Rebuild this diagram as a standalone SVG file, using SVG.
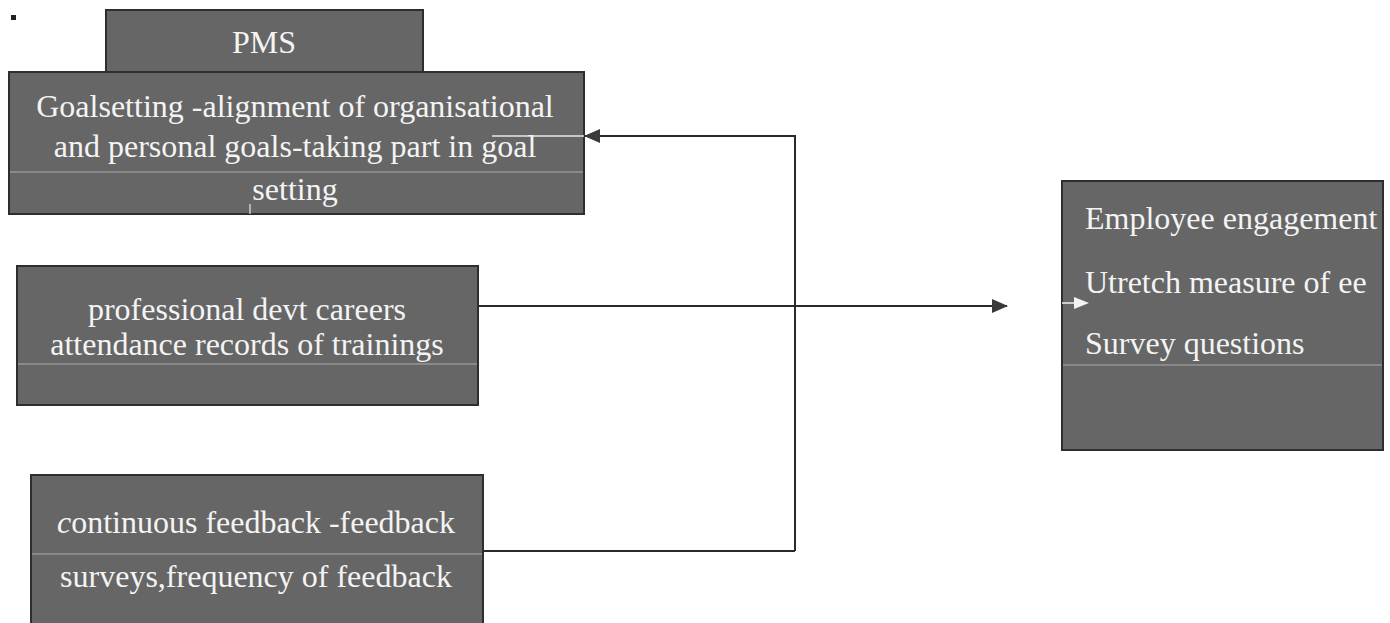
<svg xmlns="http://www.w3.org/2000/svg" width="1390" height="623" viewBox="0 0 1390 623">
<style>
.box{fill:#666666;stroke:#2e2e2e;stroke-width:2}
.t{font-family:"Liberation Serif","Times New Roman",serif;font-size:32px;fill:#f4f4f4}
.c{text-anchor:middle}
.faint{stroke:#bdbdbd;stroke-width:1.2;opacity:0.8}
.conn{fill:none;stroke:#2a2a2a;stroke-width:2}
</style>
<defs>
<marker id="ah" viewBox="0 0 16 16" refX="15" refY="8" markerWidth="16" markerHeight="16" markerUnits="userSpaceOnUse" orient="auto">
<path d="M0,1 L16,8 L0,15 Z" fill="#3a3a3a"/>
</marker>
</defs>
<rect width="1390" height="623" fill="#ffffff"/>
<rect x="11" y="15" width="5" height="5" fill="#222"/>

<g id="pms">
<rect class="box" x="106" y="10" width="317" height="62"/>
<text class="t c" x="264" y="53">PMS</text>
</g>

<g id="goalsetting">
<rect class="box" x="9" y="72" width="575" height="142"/>
<line class="faint" x1="10" y1="172" x2="583" y2="172"/>
<line x1="492" y1="136" x2="584" y2="136" stroke="#e8e8e8" stroke-width="1.5"/>
<line x1="250" y1="204" x2="250" y2="214" stroke="#e8e8e8" stroke-width="1.2"/>
<text class="t c" x="295" y="117">Goalsetting -alignment of organisational</text>
<text class="t c" x="295" y="157">and personal goals-taking part in goal</text>
<text class="t c" x="295" y="200">setting</text>
</g>

<g id="professional">
<rect class="box" x="17" y="266" width="461" height="139"/>
<line class="faint" x1="18" y1="364" x2="477" y2="364"/>
<text class="t c" x="247" y="320">professional devt careers</text>
<text class="t c" x="247" y="355">attendance records of trainings</text>
</g>

<g id="feedback">
<rect class="box" x="31" y="475" width="452" height="150"/>
<line class="faint" x1="32" y1="554" x2="482" y2="554"/>
<text class="t c" x="256" y="533"><tspan font-style="italic">c</tspan>ontinuous feedback -feedback</text>
<text class="t c" x="256" y="587">surveys,frequency of feedback</text>
</g>

<g id="engagement">
<rect class="box" x="1062" y="181" width="321" height="269"/>
<line class="faint" x1="1063" y1="365" x2="1382" y2="365"/>
<line x1="1062" y1="303" x2="1075" y2="303" stroke="#f0f0f0" stroke-width="1.5"/>
<path d="M1074,297 L1089,303 L1074,309 Z" fill="#f4f4f4"/>
<text class="t" x="1085" y="229">Employee engagement</text>
<text class="t" x="1085" y="293">Utretch measure of ee</text>
<text class="t" x="1085" y="354">Survey questions</text>
</g>

<g id="connectors">
<path class="conn" d="M795,551 L795,136 L585,136" marker-end="url(#ah)"/>
<path class="conn" d="M479,306 L1007,306" marker-end="url(#ah)"/>
<path class="conn" d="M483,551 L795,551"/>
</g>
</svg>
